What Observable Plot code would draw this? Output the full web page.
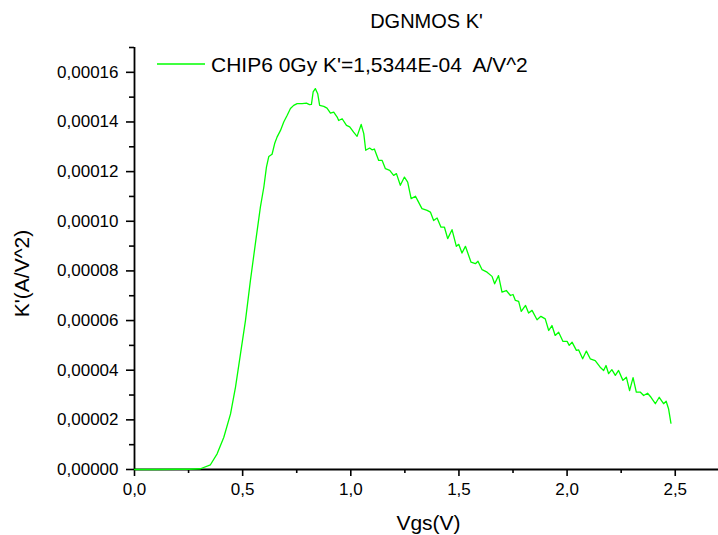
<!DOCTYPE html>
<html>
<head>
<meta charset="utf-8">
<script src="https://cdn.jsdelivr.net/npm/d3@7"></script>
<script src="https://cdn.jsdelivr.net/npm/@observablehq/plot@0.6"></script>
<style>
  html, body { margin: 0; padding: 0; background: #fff; }
  #chart svg { display: block; font-family: "Liberation Sans", Arial, Helvetica, sans-serif; }
</style>
</head>
<body>
<div id="chart"></div>
<script>
const titleText = "DGNMOS K'";
const seriesLabel = "CHIP6 0Gy K'=1,5344E-04  A/V^2";
const xLabel = "Vgs(V)";
const yLabel = "K'(A/V^2)";

const xMajorTicks = [0, 0.5, 1.0, 1.5, 2.0, 2.5];
const xMinorTicks = [0.25, 0.75, 1.25, 1.75, 2.25, 2.75];
const yMajorTicks = [0, 0.00002, 0.00004, 0.00006, 0.00008, 0.0001, 0.00012, 0.00014, 0.00016];
const yMinorTicks = [0.00001, 0.00003, 0.00005, 0.00007, 0.00009, 0.00011, 0.00013, 0.00015, 0.00017];

const vgs = [
  0, 0.1, 0.2, 0.25, 0.28, 0.305, 0.351, 0.382, 0.413, 0.444, 0.467, 0.490, 0.513, 0.536,
  0.559, 0.582, 0.598, 0.610, 0.621, 0.636, 0.648, 0.659, 0.675, 0.690, 0.706, 0.721,
  0.736, 0.752, 0.775, 0.795, 0.809, 0.818, 0.826, 0.836, 0.847, 0.856, 0.875, 0.890,
  0.906, 0.921, 0.937, 0.944, 0.960, 0.980, 0.995, 1.013, 1.029, 1.048, 1.060, 1.069,
  1.087, 1.098, 1.109, 1.129, 1.145, 1.160, 1.180, 1.198, 1.211, 1.229, 1.248, 1.263,
  1.279, 1.299, 1.309, 1.329, 1.353, 1.368, 1.383, 1.399, 1.417, 1.433, 1.448, 1.468,
  1.488, 1.499, 1.514, 1.530, 1.556, 1.576, 1.588, 1.607, 1.630, 1.653, 1.665, 1.683,
  1.699, 1.719, 1.738, 1.750, 1.761, 1.776, 1.788, 1.808, 1.822, 1.838, 1.861, 1.879,
  1.899, 1.915, 1.930, 1.945, 1.961, 1.981, 2.000, 2.010, 2.023, 2.043, 2.053, 2.072,
  2.089, 2.107, 2.130, 2.153, 2.169, 2.180, 2.192, 2.207, 2.223, 2.238, 2.258, 2.274,
  2.289, 2.305, 2.320, 2.338, 2.354, 2.372, 2.388, 2.408, 2.426, 2.446, 2.458, 2.469, 2.480
];
const kPrime = [
  0, 0, 0.0000001, 0.0000001, 0.0000002, 0.0000003, 0.0000019, 0.0000063, 0.0000130, 0.0000224, 0.0000332, 0.0000466, 0.0000600, 0.0000762,
  0.0000911, 0.0001057, 0.0001138, 0.0001218, 0.0001261, 0.0001270, 0.0001313, 0.0001339, 0.0001366, 0.0001400, 0.0001427, 0.0001454,
  0.0001467, 0.0001474, 0.0001474, 0.0001476, 0.0001470, 0.0001471, 0.0001521, 0.00015344, 0.0001514, 0.0001467, 0.0001463, 0.0001456,
  0.0001436, 0.0001440, 0.0001420, 0.0001406, 0.0001413, 0.0001386, 0.0001380, 0.0001359, 0.0001342, 0.0001390, 0.0001353, 0.0001286,
  0.0001295, 0.0001288, 0.0001291, 0.0001245, 0.0001245, 0.0001212, 0.0001205, 0.0001185, 0.0001192, 0.0001145, 0.0001178, 0.0001158,
  0.0001091, 0.0001101, 0.0001084, 0.0001051, 0.0001044, 0.0001037, 0.0001003, 0.0001013, 0.0000976, 0.0000976, 0.0000930, 0.0000966,
  0.0000899, 0.0000907, 0.0000872, 0.0000899, 0.0000835, 0.0000829, 0.0000839, 0.0000805, 0.0000795, 0.0000778, 0.0000748, 0.0000781,
  0.0000715, 0.0000721, 0.0000701, 0.0000705, 0.0000681, 0.0000677, 0.0000637, 0.0000661, 0.0000630, 0.0000641, 0.0000603, 0.0000617,
  0.0000607, 0.0000560, 0.0000580, 0.0000540, 0.0000553, 0.0000516, 0.0000516, 0.0000500, 0.0000513, 0.0000480, 0.0000482, 0.0000446,
  0.0000477, 0.0000446, 0.0000439, 0.0000412, 0.0000399, 0.0000419, 0.0000386, 0.0000402, 0.0000379, 0.0000399, 0.0000359, 0.0000372,
  0.0000318, 0.0000370, 0.0000312, 0.0000312, 0.0000298, 0.0000307, 0.0000291, 0.0000265, 0.0000291, 0.0000265, 0.0000275, 0.0000245, 0.0000187
];

const data = vgs.map((v, i) => ({v, k: kPrime[i]}));
const lineColor = "#00ff00";
const fmtX = d => d.toFixed(1).replace(".", ",");
const fmtY = d => d.toFixed(5).replace(".", ",");

const chart = Plot.plot({
  width: 718,
  height: 535,
  marginLeft: 134,
  marginRight: 0,
  marginTop: 47,
  marginBottom: 66,
  style: {fontFamily: '"Liberation Sans", Arial, Helvetica, sans-serif', color: "#000", background: "#fff"},
  x: {domain: [0, 2.7]},
  y: {domain: [0, 0.00017]},
  marks: [
    Plot.axisX({ticks: xMajorTicks, tickSize: 7, tickPadding: 6, tickFormat: fmtX, fontSize: 17, strokeWidth: 1.6, label: null}),
    Plot.axisX({ticks: xMinorTicks, tickSize: 4, tickFormat: () => "", strokeWidth: 1.6, label: null}),
    Plot.axisY({ticks: yMajorTicks, tickSize: 8, tickPadding: 8, tickFormat: fmtY, fontSize: 17, strokeWidth: 1.6, label: null}),
    Plot.axisY({ticks: yMinorTicks, tickSize: 5, tickFormat: () => "", strokeWidth: 1.6, label: null}),
    Plot.ruleX([0], {stroke: "#000", strokeWidth: 1.8}),
    Plot.ruleY([0], {stroke: "#000", strokeWidth: 1.8}),
    Plot.line(data, {x: "v", y: "k", stroke: lineColor, strokeWidth: 1.3}),
    Plot.text([titleText], {frameAnchor: "top", dy: -26, textAnchor: "middle", lineAnchor: "middle", fontSize: 20, fill: "#000"}),
    Plot.text([xLabel], {frameAnchor: "bottom", dx: 2, dy: 54, textAnchor: "middle", lineAnchor: "middle", fontSize: 21, fill: "#000"}),
    Plot.text([yLabel], {frameAnchor: "left", dx: -112, dy: 15, rotate: -90, textAnchor: "middle", lineAnchor: "middle", fontSize: 21, fill: "#000"})
  ]
});

// legend
const svg = d3.select(chart);
const leg = svg.append("g");
leg.append("line").attr("x1", 157).attr("x2", 205).attr("y1", 64).attr("y2", 64)
  .attr("stroke", lineColor).attr("stroke-width", 1.3);
leg.append("text").attr("x", 211).attr("y", 71.5)
  .attr("text-anchor", "start")
  .attr("font-size", 21).attr("fill", "#000").style("white-space", "pre")
  .attr("xml:space", "preserve")
  .text(seriesLabel);

document.getElementById("chart").appendChild(chart);
</script>
</body>
</html>
